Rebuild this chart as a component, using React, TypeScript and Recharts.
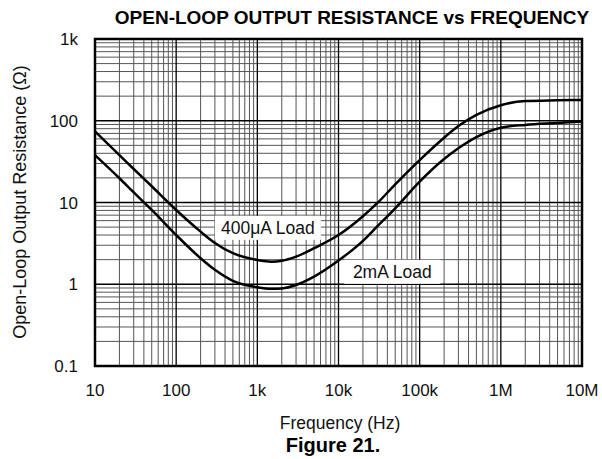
import { LineChart, Line, XAxis, YAxis, ReferenceLine, ReferenceArea, ReferenceDot } from "recharts";

const freqs = [10, 20, 30, 50, 100, 200, 300, 500, 1000, 1500, 2000, 3000, 5000, 10000, 20000, 30000, 50000, 100000, 200000, 300000, 500000, 1000000, 2000000, 5000000, 10000000];
const load400uA = [74, 38, 25.7, 15.8, 8.1, 4.4, 3.2, 2.4, 1.98, 1.89, 1.94, 2.18, 2.76, 4.0, 6.8, 9.8, 16.7, 33, 62, 86, 118, 155, 174, 178, 180];
const load2mA = [38, 19.8, 13.3, 8.1, 4.0, 2.08, 1.5, 1.1, 0.92, 0.88, 0.89, 0.98, 1.24, 1.95, 3.4, 5.1, 8.5, 18, 34, 46, 63, 82, 89, 94, 98];

const xTicks = [10, 100, 1000, 10000, 100000, 1000000, 10000000];
const xTickLabels = ["10", "100", "1k", "10k", "100k", "1M", "10M"];
const yTicks = [0.1, 1, 10, 100, 1000];
const yTickLabels = ["0.1", "1", "10", "100", "1k"];

const minorSteps = [2, 3, 4, 5, 6, 7, 8, 9];
const xMinor = xTicks.slice(0, -1).flatMap((d) => minorSteps.map((m) => d * m));
const yMinor = yTicks.slice(0, -1).flatMap((d) => minorSteps.map((m) => +(d * m).toPrecision(3)));

const data = freqs.map((f, i) => ({ f, r400: load400uA[i], r2m: load2mA[i] }));

const FONT = "'Liberation Sans', Arial, Helvetica, sans-serif";

const curveLabel = (text: string, w: number) => (props: any) => {
  const { cx, cy } = props;
  return (
    <g>
      <rect x={cx - w / 2} y={cy - 12} width={w} height={24} fill="#fff" />
      <text x={cx} y={cy} textAnchor="middle" dominantBaseline="central" fontFamily={FONT} fontSize={17.5} fill="#111">
        {text}
      </text>
    </g>
  );
};

export default function App() {
  return (
    <div style={{ position: "absolute", left: 0, top: 0, width: 602, height: 459, background: "#fff" }}>
      <LineChart width={602} height={459} data={data} margin={{ top: 39, right: 20, left: 35, bottom: 63 }}>
        <XAxis
          dataKey="f"
          type="number"
          scale="log"
          domain={[10, 10000000]}
          ticks={xTicks}
          tickFormatter={(v: number) => xTickLabels[xTicks.indexOf(v)] ?? ""}
          axisLine={false}
          tickLine={false}
          tickSize={0}
          tickMargin={18}
          height={30}
          tick={{ fill: "#111", fontSize: 17, fontFamily: FONT }}
          allowDataOverflow
        />
        <YAxis
          type="number"
          scale="log"
          domain={[0.1, 1000]}
          ticks={yTicks}
          tickFormatter={(v: number) => yTickLabels[yTicks.indexOf(v)] ?? ""}
          axisLine={false}
          tickLine={false}
          tickSize={0}
          tickMargin={17}
          width={60}
          tick={{ fill: "#111", fontSize: 17, fontFamily: FONT }}
          allowDataOverflow
        />
        {xMinor.map((v) => (
          <ReferenceLine key={"xm" + v} x={v} stroke="#555" strokeWidth={1} />
        ))}
        {yMinor.map((v) => (
          <ReferenceLine key={"ym" + v} y={v} stroke="#555" strokeWidth={1} />
        ))}
        {xTicks.map((v) => (
          <ReferenceLine key={"xM" + v} x={v} stroke="#000" strokeWidth={1.3} />
        ))}
        {yTicks.map((v) => (
          <ReferenceLine key={"yM" + v} y={v} stroke="#000" strokeWidth={1.3} />
        ))}
        <ReferenceArea x1={10} x2={10000000} y1={0.1} y2={1000} fill="none" stroke="#000" strokeWidth={2.5} ifOverflow="visible" />
        <Line dataKey="r400" type="monotone" stroke="#000" strokeWidth={2.5} dot={false} isAnimationActive={false} />
        <Line dataKey="r2m" type="monotone" stroke="#000" strokeWidth={2.5} dot={false} isAnimationActive={false} />
        <ReferenceDot x={1350} y={4.9} r={0} shape={curveLabel("400\u03bcA Load", 106)} />
        <ReferenceDot x={46000} y={1.42} r={0} shape={curveLabel("2mA Load", 96)} />
      </LineChart>
      <svg width={602} height={459} style={{ position: "absolute", left: 0, top: 0, pointerEvents: "none" }}>
        <text x={352} y={24} textAnchor="middle" fontFamily={FONT} fontSize={19} fontWeight="bold" fill="#000">
          OPEN-LOOP OUTPUT RESISTANCE vs FREQUENCY
        </text>
        <text
          x={20}
          y={202}
          transform="rotate(-90 20 202)"
          textAnchor="middle"
          dominantBaseline="central"
          fontFamily={FONT}
          fontSize={18}
          fill="#111"
        >
          Open-Loop Output Resistance (Ω)
        </text>
        <text x={340} y={429} textAnchor="middle" fontFamily={FONT} fontSize={17.5} fill="#111">
          Frequency (Hz)
        </text>
        <text x={333} y={452} textAnchor="middle" fontFamily={FONT} fontSize={20} fontWeight="bold" fill="#000">
          Figure 21.
        </text>
      </svg>
    </div>
  );
}
